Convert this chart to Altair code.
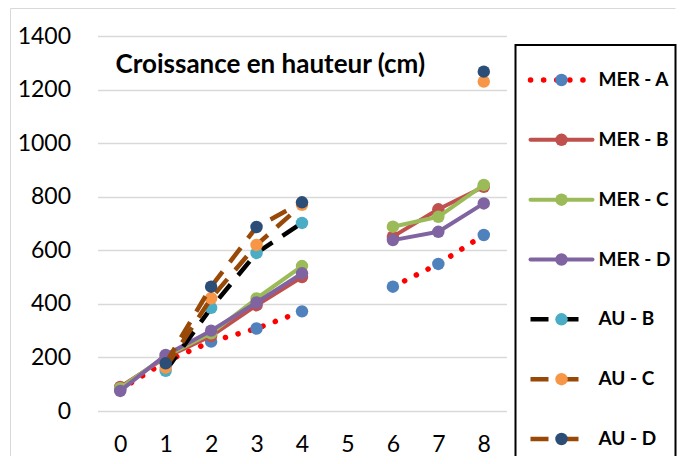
import altair as alt
import pandas as pd

# ---------------- data ----------------
x_labels = ["0", "1", "2", "3", "4", "5", "6", "7", "8"]
series = ["MER - A", "MER - B", "MER - C", "MER - D", "AU - B", "AU - C", "AU - D"]
N = None
mer_a = [80, 185, 259, 308, 372, N, 464, 549, 657]
mer_b = [90, 200, 280, 395, 500, N, 651, 753, 837]
mer_c = [85, 205, 290, 420, 541, N, 688, 725, 844]
mer_d = [75, 209, 300, 405, 514, N, 638, 669, 775]
au_b = [N, 150, 385, 590, 702, N, N, N, N]
au_c = [N, 162, 421, 620, 770, N, N, N, 1230]
au_d = [N, 178, 464, 687, 779, N, N, N, 1267]
values = [mer_a, mer_b, mer_c, mer_d, au_b, au_c, au_d]
y_ticks = [0, 200, 400, 600, 800, 1000, 1200, 1400]
chart_title = "Croissance en hauteur (cm)"

# ---------------- styles ----------------
line_colors = ["#FF0000", "#C0504D", "#9BBB59", "#8064A2", "#000000", "#984807", "#984807"]
marker_colors = ["#4F81BD", "#C0504D", "#9BBB59", "#8064A2", "#4BACC6", "#F79646", "#2C4D75"]
line_widths = [5.5, 4, 4, 4, 4.5, 4.5, 4.5]
line_dashes = [[0.1, 13], None, None, None, [18, 12], [18, 12], [18, 12]]
line_caps = ["round", "round", "round", "round", "butt", "butt", "butt"]
FONT = "Lato"

rows = []
for s, vals in zip(series, values):
    run = 0
    prev = False
    for xl, v in zip(x_labels, vals):
        if v is None:
            if prev:
                run += 1
            prev = False
            continue
        rows.append(dict(series=s, x=xl, y=v, seg=f"{s}-{run}"))
        prev = True
df = pd.DataFrame(rows)

W, H = 409, 375
LW = 160
SP = 9

X = alt.X("x:O", scale=alt.Scale(type="point", domain=x_labels, padding=0.5),
          axis=alt.Axis(title=None, grid=False, labelAngle=0, labelPadding=40,
                        labelBaseline="alphabetic"))
Y = alt.Y("y:Q", scale=alt.Scale(domain=[0, 1400], nice=False, zero=True),
          axis=alt.Axis(title=None, values=y_ticks, grid=True, labelPadding=27, format="d"))

base = alt.Chart(df)
one = pd.DataFrame({"k": [0]})

border_left = alt.Chart(one).mark_rule(color="#D9D9D9", strokeWidth=1, clip=False).encode(
    x=alt.value(-87), y=alt.value(-27.5), y2=alt.value(430))
border_top = alt.Chart(one).mark_rule(color="#D9D9D9", strokeWidth=1, clip=False).encode(
    x=alt.value(-87), x2=alt.value(W + SP + LW), y=alt.value(-27.5))

layers = [border_left, border_top]
for i, s in enumerate(series):
    sub = base.transform_filter(alt.datum.series == s)
    lk = dict(stroke=line_colors[i], strokeWidth=line_widths[i], strokeCap=line_caps[i],
              strokeJoin="round")
    if line_dashes[i] is not None:
        lk["strokeDash"] = line_dashes[i]
    layers.append(sub.mark_line(**lk).encode(x=X, y=Y, detail="seg:N"))
    layers.append(sub.mark_circle(size=155, color=marker_colors[i], opacity=1).encode(x=X, y=Y))

title_layer = alt.Chart(pd.DataFrame({"t": [chart_title]})).mark_text(
    font=FONT, fontSize=26, fontWeight="bold", align="left", baseline="alphabetic",
    color="#000000"
).encode(x=alt.value(18), y=alt.value(37), text="t:N")
layers.append(title_layer)

main = alt.layer(*layers).properties(width=W, height=H)

# ---------------- legend panel ----------------
leg_line = [15, 77]
leg_line_au = [15, 73]
leg_marker = 46
leg_text = 83
leg_rows = []
for s in series:
    ends = leg_line if s.startswith("MER") else leg_line_au
    for e in ends:
        leg_rows.append(dict(series=s, lx=e))
ldf = pd.DataFrame(leg_rows)
mdf = pd.DataFrame(dict(series=series, lx=[leg_marker] * len(series)))
tdf = pd.DataFrame(dict(series=series, lx=[leg_text] * len(series)))

LX = alt.X("lx:Q", scale=alt.Scale(domain=[0, LW], nice=False, zero=False), axis=None)
LY = alt.Y("series:N", scale=alt.Scale(type="point", domain=series, range=[44, 403], padding=0),
           axis=None)

box = alt.Chart(one).mark_rect(
    fill="white", stroke="#000000", strokeWidth=2, clip=False
).encode(x=alt.value(0), x2=alt.value(LW), y=alt.value(9), y2=alt.value(430))

leg_layers = [box]
for i, s in enumerate(series):
    lk = dict(stroke=line_colors[i], strokeWidth=line_widths[i], strokeCap=line_caps[i])
    if line_dashes[i] is not None:
        lk["strokeDash"] = line_dashes[i]
    leg_layers.append(alt.Chart(ldf).transform_filter(alt.datum.series == s)
                      .mark_line(**lk).encode(x=LX, y=LY))
    leg_layers.append(alt.Chart(mdf).transform_filter(alt.datum.series == s)
                      .mark_circle(size=155, color=marker_colors[i], opacity=1).encode(x=LX, y=LY))
leg_layers.append(alt.Chart(tdf).mark_text(
    font=FONT, fontSize=19, fontWeight="bold", align="left", baseline="middle", color="#000000"
).encode(x=LX, y=LY, text="series:N"))

legend = alt.layer(*leg_layers).properties(width=LW, height=H)

chart = alt.hconcat(main, legend, spacing=SP, bounds="flush").properties(
    padding={"left": 1.5, "top": 0, "right": 0, "bottom": -11}
).configure_view(stroke=None).configure_axis(
    domain=False, ticks=False, gridColor="#D9D9D9", gridWidth=1.5,
    labelFont=FONT, labelFontSize=23, labelColor="#000000"
)

chart.save("out.html", embed_options={"renderer": "svg", "actions": False})
